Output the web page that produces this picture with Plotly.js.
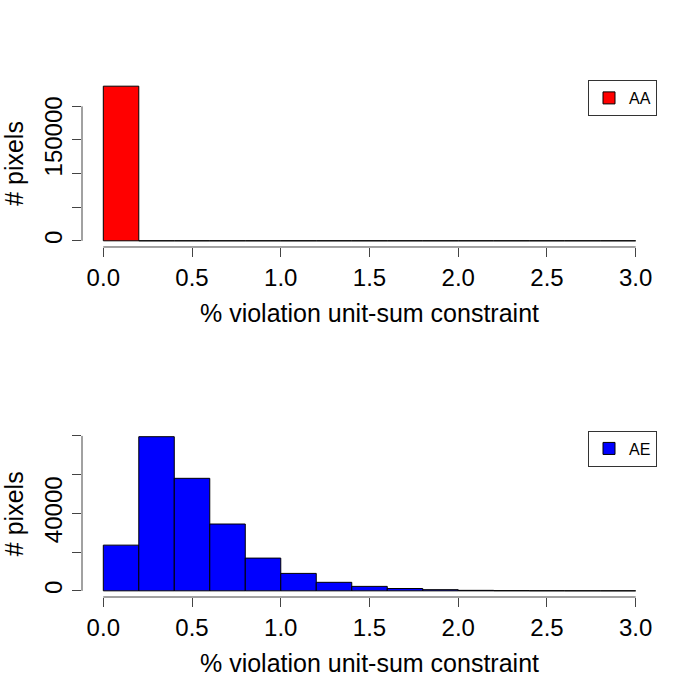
<!DOCTYPE html>
<html>
<head>
<meta charset="utf-8">
<script src="https://cdn.plot.ly/plotly-3.0.1.min.js"></script>
<style>html,body{margin:0;padding:0;background:#fff;}#chart{width:699px;height:699px;}</style>
</head>
<body>
<div id="chart"></div>
<script>
// Histogram bin breaks (% violation unit-sum constraint)
var breaks = [0.0, 0.2, 0.4, 0.6, 0.8, 1.0, 1.2, 1.4, 1.6, 1.8, 2.0, 2.2, 2.4, 2.6, 2.8, 3.0];
// Counts per bin (# pixels)
var countsAA = [230000, 0, 0, 0, 0, 0, 0, 0, 0, 0, 0, 0, 0, 0, 0];
var countsAE = [23600, 79600, 58100, 34500, 16900, 9000, 4400, 2300, 1200, 600, 250, 100, 50, 20, 10];
var seriesNames = ["AA", "AE"];
var seriesColors = ["#FF0000", "#0000FF"];
// Tick labels
var xTickVals = [0, 0.5, 1, 1.5, 2, 2.5, 3];
var xTickText = ["0.0", "0.5", "1.0", "1.5", "2.0", "2.5", "3.0"];
var yTickValsAA = [0, 50000, 100000, 150000, 200000];
var yTickTextAA = ["0", "", "", "150000", ""];
var yTickValsAE = [0, 20000, 40000, 60000, 80000];
var yTickTextAE = ["0", "", "40000", "", ""];
var xTitle = "% violation unit-sum constraint";
var yTitle = "# pixels";

var mids = [], widths = [];
for (var i = 0; i < breaks.length - 1; i++) {
  mids.push((breaks[i] + breaks[i + 1]) / 2);
  widths.push(breaks[i + 1] - breaks[i]);
}
function maxOf(a) { return Math.max.apply(null, a); }
function padRange(lo, hi) { var d = (hi - lo) * 0.04; return [lo - d, hi + d]; }

var FONT = "Liberation Sans, Arial, Helvetica, sans-serif";
var axisCol = "#444";

var traces = [
  {type: "bar", x: mids, y: countsAA, width: widths, name: seriesNames[0],
   marker: {color: seriesColors[0], line: {color: "#000", width: 1}},
   xaxis: "x", yaxis: "y", legend: "legend", hoverinfo: "skip"},
  {type: "bar", x: mids, y: countsAE, width: widths, name: seriesNames[1],
   marker: {color: seriesColors[1], line: {color: "#000", width: 1}},
   xaxis: "x2", yaxis: "y2", legend: "legend2", hoverinfo: "skip"}
];

function xAxis(anchor) {
  return {anchor: anchor, domain: [0, 1], range: padRange(breaks[0], breaks[breaks.length - 1]),
    tickmode: "array", tickvals: xTickVals, ticktext: xTickText,
    ticks: "outside", ticklen: 9, tickwidth: 1, tickcolor: axisCol,
    showline: false, showgrid: false, zeroline: false,
    tickfont: {family: FONT, size: 24, color: "#000"},
    title: {text: xTitle, font: {family: FONT, size: 25, color: "#000"}, standoff: 14}};
}
function yAxis(anchor, domain, counts, tv, tt) {
  return {anchor: anchor, domain: domain, range: padRange(0, maxOf(counts)),
    tickmode: "array", tickvals: tv, ticktext: tt, tickangle: -90,
    ticks: "outside", ticklen: 9, tickwidth: 1, tickcolor: axisCol,
    showline: false, showgrid: false, zeroline: false,
    tickfont: {family: FONT, size: 24, color: "#000"},
    title: {text: yTitle, font: {family: FONT, size: 25, color: "#000"}, standoff: 13}};
}

var legendBase = {x: 1, xanchor: "right", yanchor: "top", bgcolor: "#fff",
  bordercolor: "#333", borderwidth: 1, font: {family: FONT, size: 16, color: "#000"}};

var layout = {
  width: 699, height: 699,
  margin: {l: 82, r: 42, t: 80, b: 102},
  paper_bgcolor: "#fff", plot_bgcolor: "#fff",
  bargap: 0,
  showlegend: true,
  xaxis: xAxis("y"),
  yaxis: yAxis("x", [0.677, 1], countsAA, yTickValsAA, yTickTextAA),
  xaxis2: xAxis("y2"),
  yaxis2: yAxis("x2", [0, 0.322], countsAE, yTickValsAE, yTickTextAE),
  legend: Object.assign({y: 1}, legendBase),
  legend2: Object.assign({y: 0.322}, legendBase),
  shapes: [
    {type: "line", xref: "x", yref: "y domain", x0: xTickVals[0], x1: xTickVals[xTickVals.length - 1], y0: 0, y1: 0, line: {color: axisCol, width: 1}},
    {type: "line", xref: "x domain", yref: "y", x0: 0, x1: 0, y0: yTickValsAA[0], y1: yTickValsAA[yTickValsAA.length - 1], line: {color: axisCol, width: 1}},
    {type: "line", xref: "x2", yref: "y2 domain", x0: xTickVals[0], x1: xTickVals[xTickVals.length - 1], y0: 0, y1: 0, line: {color: axisCol, width: 1}},
    {type: "line", xref: "x2 domain", yref: "y2", x0: 0, x1: 0, y0: yTickValsAE[0], y1: yTickValsAE[yTickValsAE.length - 1], line: {color: axisCol, width: 1}}
  ]
};

Plotly.newPlot("chart", traces, layout, {staticPlot: true, displayModeBar: false});
</script>
</body>
</html>
